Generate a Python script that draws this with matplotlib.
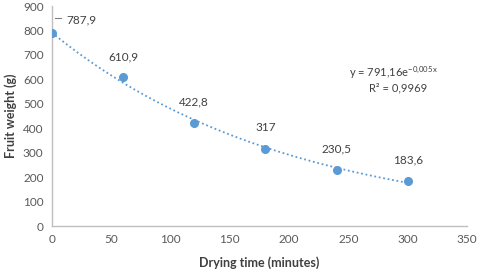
import numpy as np
import matplotlib
matplotlib.use("Agg")
import matplotlib.pyplot as plt

time_min = [0, 60, 120, 180, 240, 300]
weight_g = [787.9, 610.9, 422.8, 317, 230.5, 183.6]
labels = ["787,9", "610,9", "422,8", "317", "230,5", "183,6"]
xticks = [0, 50, 100, 150, 200, 250, 300, 350]
yticks = [0, 100, 200, 300, 400, 500, 600, 700, 800, 900]

plt.rcParams['font.family'] = ['Lato', 'DejaVu Sans']
plt.rcParams['mathtext.fontset'] = 'custom'
plt.rcParams['mathtext.rm'] = 'Lato'
plt.rcParams['mathtext.it'] = 'Lato'
fig = plt.figure(figsize=(4.8, 2.73), dpi=100)
ax = fig.add_axes([0.108, 0.172, 0.865, 0.806])

blue = '#5B9BD5'
# exponential trendline fitted to data
b, lna = np.polyfit(time_min, np.log(weight_g), 1)
xs = np.linspace(0, 300, 200)
ax.plot(xs, np.exp(lna) * np.exp(b * xs), linestyle=(0, (1, 1.5)), color=blue, lw=1.3)
ax.plot(time_min, weight_g, 'o', color=blue, ms=5.5, zorder=3)

offsets = [(21, 10), (0, 14), (0, 15), (0, 15), (0, 15), (0, 15)]
for x, y, t, (dx, dy) in zip(time_min, weight_g, labels, offsets):
    ax.annotate(t, (x, y), xytext=(dx, dy), textcoords='offset points',
                ha='center', va='center', fontsize=8.5, color='#404040',
                annotation_clip=False)
# leader line for the first label
ax.plot([3, 8], [852, 852], color='#808080', lw=0.8, clip_on=False)

ax.text(0.93, 0.695, 'y = 791,16e$^{\\mathrm{-0{,}005x}}$', transform=ax.transAxes,
        ha='right', va='center', fontsize=8, color='#404040')
ax.text(0.905, 0.628, 'R² = 0,9969', transform=ax.transAxes,
        ha='right', va='center', fontsize=8, color='#404040')

ax.set_xlim(0, 350)
ax.set_ylim(0, 900)
ax.set_xticks(xticks)
ax.set_yticks(yticks)
ax.tick_params(length=0, labelsize=8.5, labelcolor='#595959', pad=6)
for s in ['top', 'right']:
    ax.spines[s].set_visible(False)
for s in ['left', 'bottom']:
    ax.spines[s].set_color('#BFBFBF')
    ax.spines[s].set_linewidth(1)
ax.set_xlabel('Drying time (minutes)', fontsize=9, fontweight='bold', color='#404040', labelpad=8)
ax.set_ylabel('Fruit weight (g)', fontsize=9, fontweight='bold', color='#404040', labelpad=4)
fig.savefig('out.png', dpi=100)
